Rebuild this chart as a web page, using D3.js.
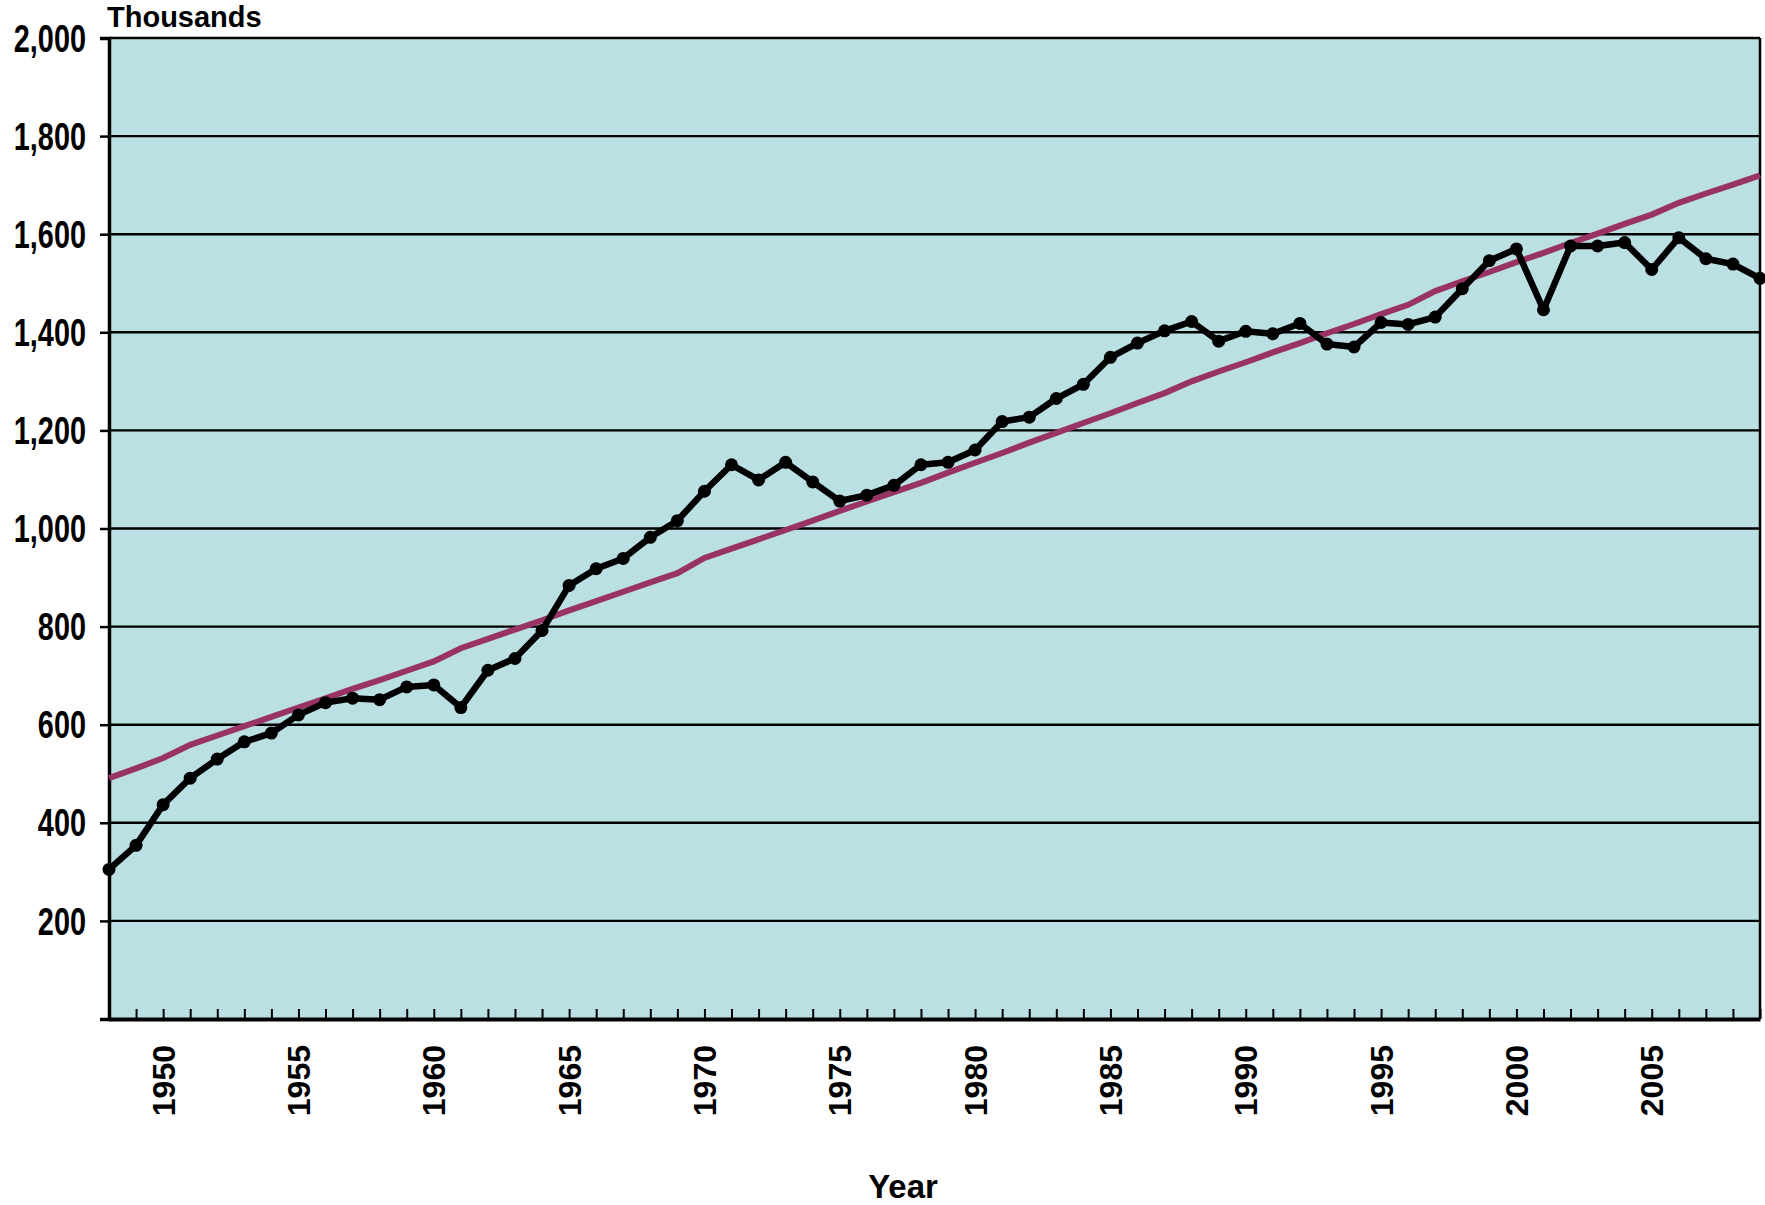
<!DOCTYPE html>
<html>
  <head>
      <script src="https://cdnjs.cloudflare.com/ajax/libs/d3/7.8.5/d3.min.js"></script>
      <style>
        body { margin: 0; background: #fff; }
        .ylab { font-family: 'Liberation Sans', Arial, sans-serif; font-weight: bold; font-size: 38px; }
        .xlab { font-family: 'Liberation Sans', Arial, sans-serif; font-weight: bold; font-size: 32px; }
      </style>
  </head>
  <body>
    <div id="vis"></div>
    <script type="text/javascript">

        const years = d3.range(1948, 2010);

        const actual = [305, 354, 437, 491, 530, 565, 583, 620, 645, 654,
                        651, 677, 681, 635, 711, 735, 792, 884, 918, 939,
                        982, 1016, 1076, 1130, 1099, 1135, 1095, 1056, 1068, 1088,
                        1130, 1135, 1160, 1218, 1227, 1265, 1294, 1349, 1378, 1403,
                        1422, 1382, 1402, 1397, 1418, 1376, 1370, 1420, 1416, 1431,
                        1489, 1546, 1570, 1446, 1576, 1576, 1583, 1528, 1593, 1550,
                        1539, 1510];

        const trend = [491, 511, 532, 559, 578, 597, 616, 635, 654, 673,
                       691, 710, 729, 756, 775, 794, 813, 833, 852, 871,
                       890, 909, 940, 959, 978, 997, 1016, 1036, 1055, 1074,
                       1093, 1114, 1134, 1154, 1175, 1195, 1215, 1235, 1256, 1276,
                       1300, 1320, 1339, 1359, 1378, 1398, 1417, 1437, 1456, 1484,
                       1504, 1523, 1543, 1562, 1582, 1601, 1621, 1640, 1664, 1683,
                       1701, 1720];

        const yTicks = [0, 200, 400, 600, 800, 1000, 1200, 1400, 1600, 1800, 2000];
        const xLabels = [1950, 1955, 1960, 1965, 1970, 1975, 1980, 1985, 1990, 1995, 2000, 2005];

        const W = 1765, H = 1205;
        const pLeft = 109, pRight = 1760, pTop = 38, pBottom = 1019;

        const svg = d3
            .select("#vis")
            .append("svg")
            .attr("width", W)
            .attr("height", H);

        const x = d3.scaleLinear().domain([1948, 2009]).range([pLeft, pRight]);
        const y = d3.scaleLinear().domain([0, 2000]).range([pBottom, pTop]);

        // plot background
        svg.append("rect")
            .attr("x", pLeft).attr("y", pTop)
            .attr("width", pRight - pLeft).attr("height", pBottom - pTop)
            .attr("fill", "#bbe0e3");

        // gridlines
        svg.append("g")
            .selectAll("line")
            .data(yTicks.filter(d => d > 0))
            .enter()
            .append("line")
            .attr("x1", pLeft).attr("x2", pRight)
            .attr("y1", d => y(d)).attr("y2", d => y(d))
            .attr("stroke", "#000")
            .attr("stroke-width", 2.4);

        // right border
        svg.append("line")
            .attr("x1", pRight).attr("x2", pRight)
            .attr("y1", pTop).attr("y2", pBottom)
            .attr("stroke", "#000").attr("stroke-width", 2.5);

        // y axis, labels drawn separately so they can be condensed
        const yAxis = svg.append("g")
            .attr("transform", `translate(${pLeft},0)`)
            .call(d3.axisLeft(y).tickValues(yTicks).tickSize(9).tickFormat(""));
        yAxis.select(".domain").attr("stroke-width", 3.5);
        yAxis.selectAll(".tick line").attr("stroke-width", 2.5);

        svg.append("g")
            .selectAll("text")
            .data(yTicks.filter(d => d > 0))
            .enter()
            .append("text")
            .attr("class", "ylab")
            .attr("transform", d => `translate(86,${y(d)}) scale(0.76,1)`)
            .attr("text-anchor", "end")
            .attr("dy", "0.36em")
            .text(d => d3.format(",")(d));

        // x axis, ticks point up into the plot
        const xAxis = svg.append("g")
            .attr("transform", `translate(0,${pBottom})`)
            .call(d3.axisBottom(x).tickValues(years).tickSizeInner(-10).tickSizeOuter(0).tickFormat(""));
        xAxis.select(".domain").attr("stroke-width", 4);
        xAxis.selectAll(".tick line").attr("stroke-width", 2);

        svg.append("g")
            .selectAll("text")
            .data(xLabels)
            .enter()
            .append("text")
            .attr("class", "xlab")
            .attr("transform", d => `translate(${x(d)},1045) rotate(-90)`)
            .attr("text-anchor", "end")
            .attr("dy", "0.36em")
            .text(d => d);

        // trend line
        svg.append("path")
            .datum(trend)
            .attr("fill", "none")
            .attr("stroke", "#993366")
            .attr("stroke-width", 6)
            .attr("d", d3.line().x((d, i) => x(years[i])).y(d => y(d)));

        // actual series
        svg.append("path")
            .datum(actual)
            .attr("fill", "none")
            .attr("stroke", "#000")
            .attr("stroke-width", 6.5)
            .attr("stroke-linejoin", "round")
            .attr("d", d3.line().x((d, i) => x(years[i])).y(d => y(d)));

        svg.append("g")
            .selectAll("circle")
            .data(actual)
            .enter()
            .append("circle")
            .attr("cx", (d, i) => x(years[i]))
            .attr("cy", d => y(d))
            .attr("r", 6.5)
            .attr("fill", "#000");

        svg.append("text")
            .attr("x", 107).attr("y", 27)
            .attr("font-family", "'Liberation Sans', Arial, sans-serif")
            .attr("font-weight", "bold")
            .attr("font-size", 29)
            .text("Thousands");

        svg.append("text")
            .attr("x", 903).attr("y", 1198)
            .attr("text-anchor", "middle")
            .attr("font-family", "'Liberation Sans', Arial, sans-serif")
            .attr("font-weight", "bold")
            .attr("font-size", 33)
            .text("Year");

    </script>
  </body>
</html>
